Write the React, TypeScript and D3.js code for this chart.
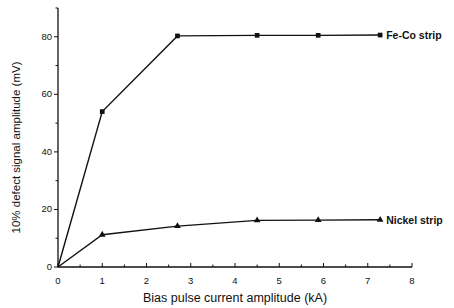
import React, { useEffect, useRef } from 'react';
import * as d3 from 'd3';

const biasCurrent = [0, 1, 2.7, 4.5, 5.88, 7.28];
const feCoAmplitude = [0, 54, 80.3, 80.5, 80.5, 80.6];
const nickelAmplitude = [0, 11.2, 14.2, 16.2, 16.3, 16.4];
const xTicks = [0, 1, 2, 3, 4, 5, 6, 7, 8];
const yTicks = [0, 20, 40, 60, 80];
const seriesLabels = ['Fe-Co strip', 'Nickel strip'];

const App: React.FC = () => {
  const svgRef = useRef<SVGSVGElement>(null);

  useEffect(() => {
    if (!svgRef.current) return;
    const width = 454;
    const height = 308;
    const margin = { left: 58, right: 42, top: 8, bottom: 41 };

    const svg = d3.select(svgRef.current);
    svg.selectAll('*').remove();
    svg.attr('width', width).attr('height', height);

    const x = d3.scaleLinear().domain([0, 8]).range([margin.left, width - margin.right]);
    const y = d3.scaleLinear().domain([0, 90]).range([height - margin.bottom, margin.top]);

    const font = 'Liberation Sans, Arial, sans-serif';
    const ink = '#111';

    // axes lines
    svg.append('line')
      .attr('x1', x(0)).attr('x2', x(0))
      .attr('y1', y(0)).attr('y2', y(90))
      .attr('stroke', ink).attr('stroke-width', 1.3);
    svg.append('line')
      .attr('x1', x(0)).attr('x2', x(8))
      .attr('y1', y(0)).attr('y2', y(0))
      .attr('stroke', ink).attr('stroke-width', 1.3);

    // x ticks (inward)
    d3.range(0, 8.01, 0.5).forEach((v) => {
      const major = Number.isInteger(v);
      svg.append('line')
        .attr('x1', x(v)).attr('x2', x(v))
        .attr('y1', y(0)).attr('y2', y(0) - (major ? 4 : 2.5))
        .attr('stroke', ink).attr('stroke-width', 1);
    });
    svg.append('g').selectAll('text').data(xTicks).join('text')
      .attr('x', (d) => x(d))
      .attr('y', y(0) + 17)
      .attr('text-anchor', 'middle')
      .style('font-family', font).style('font-size', '9.5px').style('fill', ink)
      .text((d) => d);

    // y ticks (outward)
    d3.range(0, 90.01, 10).forEach((v) => {
      const major = v % 20 === 0;
      svg.append('line')
        .attr('x1', x(0)).attr('x2', x(0) - (major ? 4 : 2.5))
        .attr('y1', y(v)).attr('y2', y(v))
        .attr('stroke', ink).attr('stroke-width', 1);
    });
    svg.append('g').selectAll('text').data(yTicks).join('text')
      .attr('x', x(0) - 6)
      .attr('y', (d) => y(d) + 3)
      .attr('text-anchor', 'end')
      .style('font-family', font).style('font-size', '9.5px').style('fill', ink)
      .text((d) => d);

    // axis titles
    svg.append('text')
      .attr('x', (x(0) + x(8)) / 2)
      .attr('y', 302)
      .attr('text-anchor', 'middle')
      .style('font-family', font).style('font-size', '12.5px').style('fill', ink)
      .text('Bias pulse current amplitude (kA)');
    svg.append('text')
      .attr('transform', `translate(20,${(y(0) + y(90)) / 2 + 10}) rotate(-90)`)
      .attr('text-anchor', 'middle')
      .style('font-family', font).style('font-size', '11.5px').style('fill', ink)
      .text('10% defect signal amplitude (mV)');

    const line = d3.line<number>()
      .x((_, i) => x(biasCurrent[i]))
      .y((d) => y(d));

    const series = [feCoAmplitude, nickelAmplitude];
    series.forEach((vals, si) => {
      svg.append('path')
        .attr('d', line(vals) || '')
        .attr('fill', 'none')
        .attr('stroke', ink)
        .attr('stroke-width', 1.4);

      const sym = d3.symbol()
        .type(si === 0 ? d3.symbolSquare : d3.symbolTriangle)
        .size(si === 0 ? 22 : 20);
      svg.append('g').selectAll('path').data(vals.slice(1)).join('path')
        .attr('transform', (d, i) => `translate(${x(biasCurrent[i + 1])},${y(d)})`)
        .attr('d', sym() || '')
        .attr('fill', ink);

      const last = vals[vals.length - 1];
      svg.append('text')
        .attr('x', x(biasCurrent[biasCurrent.length - 1]) + 6)
        .attr('y', y(last) + 4)
        .style('font-family', font).style('font-size', '10.5px').style('font-weight', 'bold').style('fill', ink)
        .text(seriesLabels[si]);
    });
  }, []);

  return <svg ref={svgRef} style={{ position: 'absolute', left: 0, top: 0, background: '#fff' }} />;
};

export default App;
